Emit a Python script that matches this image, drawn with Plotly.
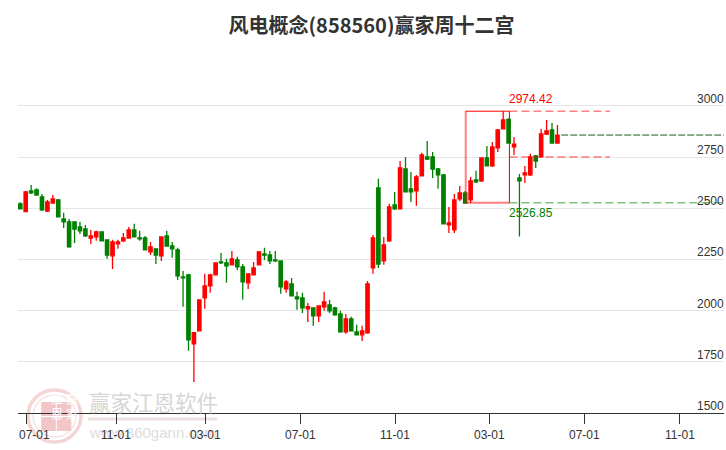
import plotly.graph_objects as go

title = "风电概念(858560)赢家周十二宫"
opens = [2522,2484,2585,2590,2556,2487,2526,2541,2448,2434,
         2434,2409,2399,2355,2360,2385,2346,2268,2326,2341,
         2355,2394,2355,2355,2287,2302,2268,2365,2316,2297,
         2165,2175,1838,1901,2062,2121,2175,2238,2233,2224,
         2248,2214,2136,2175,2224,2277,2272,2248,2243,2106,
         2131,2067,2062,2009,2014,1975,2019,2028,2014,1984,
         1896,1960,1896,1882,1892,2209,2600,2243,2341,2517,
         2497,2692,2595,2585,2658,2751,2751,2692,2663,2419,
         2395,2546,2575,2541,2639,2634,2746,2707,2795,2888,
         2935,2800,2648,2663,2663,2756,2751,2863,2883,2819]
highs = [2530,2585,2614,2598,2570,2541,2565,2546,2478,2448,
         2434,2434,2419,2394,2390,2385,2346,2346,2346,2380,
         2409,2424,2390,2365,2336,2302,2360,2390,2336,2307,
         2194,2180,1892,2053,2180,2180,2233,2282,2253,2292,
         2263,2228,2180,2238,2292,2307,2292,2292,2243,2150,
         2160,2092,2087,2038,2014,2023,2092,2053,2019,1999,
         1984,1970,1931,1926,2145,2370,2644,2360,2522,2580,
         2731,2751,2678,2663,2771,2829,2775,2697,2668,2507,
         2570,2609,2585,2653,2683,2746,2805,2824,2888,2974.42,
         2940,2849,2668,2707,2766,2761,2888,2932,2917,2907]
lows = [2497,2484,2570,2565,2487,2482,2526,2458,2404,2307,
        2331,2375,2360,2326,2341,2341,2253,2204,2302,2336,
        2355,2360,2341,2297,2272,2228,2243,2312,2258,2150,
        2019,1804,1652,1901,2009,2087,2175,2228,2136,2224,
        2199,2053,2106,2175,2224,2248,2228,2238,2082,2087,
        2072,2004,1989,1945,1926,1945,1999,1989,1975,1892,
        1887,1901,1882,1852,1887,2180,2209,2224,2336,2492,
        2497,2580,2531,2512,2658,2736,2648,2595,2424,2380,
        2380,2536,2526,2526,2624,2629,2707,2702,2775,2888,
        2819,2761,2362,2624,2658,2697,2751,2858,2819,2819]
closes = [2497,2580,2575,2565,2492,2531,2546,2458,2434,2312,
          2399,2390,2365,2365,2385,2341,2272,2336,2336,2355,
          2394,2360,2351,2297,2312,2272,2360,2316,2302,2170,
          2160,1857,1892,2053,2121,2175,2233,2233,2219,2253,
          2214,2141,2180,2209,2287,2272,2243,2243,2116,2141,
          2072,2058,2014,2019,1975,2023,2043,1999,1979,1896,
          1960,1901,1882,1901,2131,2355,2228,2321,2507,2497,
          2697,2580,2580,2653,2761,2741,2692,2663,2424,2429,
          2541,2575,2526,2634,2629,2746,2707,2800,2883,2932,
          2819,2814,2634,2673,2751,2731,2863,2878,2819,2858]
xs = list(range(len(opens)))

tick_pos = [1.1, 17.7, 34.1, 51.6, 69.1, 86.4, 103.9, 121.5]
tick_text = ["07-01", "11-01", "03-01", "07-01", "11-01", "03-01", "07-01", "11-01"]
y_ticks = [1500, 1750, 2000, 2250, 2500, 2750, 3000]

box_high = 2974.42
box_low = 2526.85
box_mid = 2750.6
last_close = 2858
box_x0, box_x1, dash_end, close_x0, x_end = 82.1, 90.15, 108.7, 99.7, 129.7

def px(x):
    return (x - 18) / 706

def py(y):
    return (413 - y) / 353

fig = go.Figure()
fig.add_trace(go.Candlestick(
    x=xs, open=opens, high=highs, low=lows, close=closes,
    increasing=dict(line=dict(color="#ff0000", width=1.3), fillcolor="#ff0000"),
    decreasing=dict(line=dict(color="#008000", width=1.3), fillcolor="#008000"),
    whiskerwidth=0, showlegend=False, hoverinfo="skip"))

def seg(x0, x1, y0, y1, color, width, dash="solid"):
    fig.add_trace(go.Scatter(x=[x0, x1], y=[y0, y1], mode="lines", showlegend=False,
                             hoverinfo="skip", line=dict(color=color, width=width, dash=dash)))

pink = "rgba(255,0,0,0.5)"
lgreen = "rgba(0,128,0,0.5)"
seg(box_x0, box_x0, box_low, box_high, pink, 2)
seg(box_x0, box_x1, box_low, box_low, pink, 2)
seg(box_x0, box_x1, box_high, box_high, "#ff0000", 1)
seg(box_x1, box_x1, box_low, box_high, "#e00000", 1)
seg(box_x1, dash_end, box_high, box_high, pink, 1.5, "8px,4px")
seg(box_x1, dash_end, box_mid, box_mid, pink, 1.5, "8px,4px")
seg(box_x1, x_end, box_low, box_low, lgreen, 1.5, "8px,4px")
seg(close_x0, x_end, last_close, last_close, "#1a5c1a", 1, "7px,2px")

ann = []
# watermark first, so that the chart's own labels stay on top of it
ann.append(dict(x=px(87), y=py(401), xref="paper", yref="paper", xanchor="left", yanchor="middle", showarrow=False,
                text="赢家江恩软件", font=dict(family="Noto Sans CJK SC", size=21.5, color="#d6d6d6")))
ann.append(dict(x=px(87), y=py(432), xref="paper", yref="paper", xanchor="left", yanchor="middle", showarrow=False,
                text="www.360gann.com", font=dict(family="Liberation Sans", size=15, color="#dcdcdc")))
seal = [("江", 48.5, 409), ("赢", 64, 409), ("恩", 48.5, 424), ("家", 64, 424)]
shapes = [dict(type="circle", xref="paper", yref="paper", x0=px(28), x1=px(81), y0=py(442), y1=py(390),
               line=dict(color="#f5d4d4", width=3.5), layer="below"),
          dict(type="circle", xref="paper", yref="paper", x0=px(33), x1=px(76), y0=py(437), y1=py(395),
               line=dict(color="#f8e4e4", width=1.5), layer="below"),
          dict(type="line", xref="paper", yref="paper", x0=px(88), x1=px(217), y0=py(419), y1=py(419),
               line=dict(color="#ecdfdf", width=3), layer="below")]
for t, cx, cy in seal:
    shapes.append(dict(type="rect", xref="paper", yref="paper", x0=px(cx-7.3), x1=px(cx+7.3),
                       y0=py(cy+7), y1=py(cy-7), fillcolor="#f2c6c6", line=dict(width=0), layer="below"))
    ann.append(dict(x=px(cx), y=py(cy), xref="paper", yref="paper", showarrow=False, text=t,
                    font=dict(family="Noto Sans CJK SC", size=12, color="#ffffff")))

for v in y_ticks:
    ann.append(dict(x=1, xref="paper", y=v, yref="y", yshift=7, xshift=2, text=str(v), showarrow=False,
                    xanchor="right", yanchor="middle",
                    font=dict(family="Liberation Sans", size=12, color="#333")))
for i, (p, t) in enumerate(zip(tick_pos, tick_text)):
    a = dict(y=py(435), yref="paper", yanchor="middle", showarrow=False, text=t,
             font=dict(family="Liberation Sans", size=12, color="#333"))
    if i == 0:
        a.update(x=0, xref="paper", xanchor="left", xshift=-1)
    else:
        a.update(x=p, xref="x", xanchor="center")
    ann.append(a)
ann.append(dict(x=box_x1, y=box_high, xref="x", yref="y", yshift=12, xshift=-2, xanchor="left", showarrow=False,
                text=f"{box_high:.2f}", font=dict(family="Liberation Sans", size=12, color="#ff0000")))
ann.append(dict(x=box_x1, y=box_low, xref="x", yref="y", yshift=-10, xshift=-2, xanchor="left", showarrow=False,
                text=f"{box_low:.2f}", font=dict(family="Liberation Sans", size=12, color="#008000")))

fig.update_layout(
    width=726, height=450, margin=dict(l=18, r=2, t=60, b=37),
    paper_bgcolor="white", plot_bgcolor="white", boxgap=0.12, showlegend=False,
    title=dict(text="<b>" + title + "</b>", x=371.5/726, xanchor="center", y=1-26/450, yanchor="middle",
               font=dict(family="Noto Sans CJK SC", size=20, color="#333")),
    xaxis=dict(range=[-0.42, x_end], tickmode="array", tickvals=tick_pos, showticklabels=False,
               showgrid=False, zeroline=False, rangeslider=dict(visible=False),
               showline=True, linecolor="#333", linewidth=1, ticks="outside", ticklen=10,
               tickcolor="#333"),
    yaxis=dict(range=[1500, 3224.6], tickmode="array", tickvals=y_ticks, showticklabels=False,
               showgrid=True, gridcolor="#e6e6e6", gridwidth=1.2, zeroline=False),
    annotations=ann, shapes=shapes)
fig.write_html("out.html", config=dict(displayModeBar=False),
               post_script="document.body.style.margin='0';")
